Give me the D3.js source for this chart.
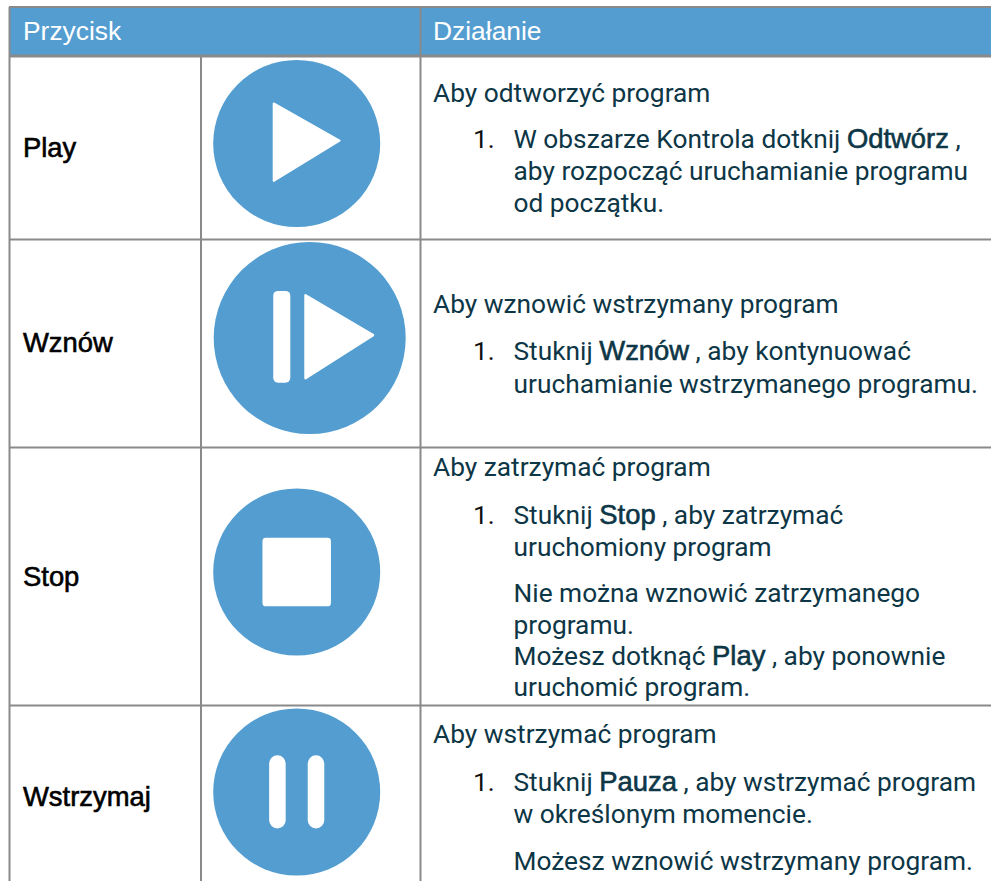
<!DOCTYPE html>
<html>

<head>
    <meta charset="utf-8">
    <title>Przyciski</title>
    <style type="text/css">
    html, body { margin: 0; padding: 0; background: #fff; overflow: hidden; }
    svg { display: block; }
    .grid line { stroke: #8a8a8a; }
    .head text { font: 26.4px "Liberation Sans", sans-serif; fill: #fff; }
    .name text { font: 27.4px "Liberation Sans", sans-serif; fill: #000; stroke: #000; stroke-width: .6px; }
    .body text { font: 26.3px Roboto, sans-serif; fill: #0d3646; }
    .body .b { font: 27.4px "Liberation Sans", sans-serif; stroke: #0d3646; stroke-width: .6px; }
    .body .num { fill: #111; }
    </style>
</head>

<body>
    <script src="https://cdnjs.cloudflare.com/ajax/libs/d3/7.8.5/d3.min.js"></script>
    <script>
    var headers = ["Przycisk", "Działanie"];
    var buttons = ["Play", "Wznów", "Stop", "Wstrzymaj"];
    var icons = ["play", "resume", "stop", "pause"];

    // *...* marks the bold words
    var playLines = ["Aby odtworzyć program", "W obszarze Kontrola dotknij *Odtwórz* ,", "aby rozpocząć uruchamianie programu", "od początku."];
    var resumeLines = ["Aby wznowić wstrzymany program", "Stuknij *Wznów* , aby kontynuować", "uruchamianie wstrzymanego programu."];
    var stopLines = ["Aby zatrzymać program", "Stuknij *Stop* , aby zatrzymać", "uruchomiony program", "Nie można wznowić zatrzymanego", "programu.", "Możesz dotknąć *Play* , aby ponownie", "uruchomić program."];
    var pauseLines = ["Aby wstrzymać program", "Stuknij *Pauza* , aby wstrzymać program", "w określonym momencie.", "Możesz wznowić wstrzymany program."];
    var allLines = [playLines, resumeLines, stopLines, pauseLines];

    // layout, kept apart from the content above
    var width = 991, height = 881;
    var rowY = d3.scaleOrdinal().domain(buttons).range([143.5, 338, 572, 792]);
    var labelY = d3.scaleOrdinal().domain(buttons).range([157, 352, 586, 806]);
    var iconX = d3.scaleOrdinal().domain(buttons).range([296.7, 309.7, 296.7, 296.7]);
    var iconR = d3.scaleOrdinal().domain(buttons).range([83.5, 96, 83.5, 83.5]);
    var lineY = d3.scaleOrdinal().domain(buttons).range([
        [102, 148, 180, 212],
        [313, 360, 393],
        [476, 524, 556, 602, 634, 665, 696],
        [743, 791, 823, 870]
    ]);

    var svg = d3.select("body").append("svg")
        .attr("width", width)
        .attr("height", height);

    svg.append("rect")
        .attr("x", 9).attr("y", 7)
        .attr("width", width - 9).attr("height", 48)
        .attr("fill", "#549dd1");

    var grid = svg.append("g").attr("class", "grid");
    function rule(x1, y1, x2, y2, w) {
        grid.append("line")
            .attr("x1", x1).attr("y1", y1)
            .attr("x2", x2).attr("y2", y2)
            .style("stroke-width", w);
    }
    rule(9, 7, width, 7, 2);
    rule(9, 56, width, 56, 3);
    [239.5, 447.5, 705.5].forEach(function(y) { rule(9, y, width, y, 2); });
    rule(9.5, 7, 9.5, height, 2);
    rule(201, 56, 201, height, 2);
    rule(420.5, 7, 420.5, height, 2);

    svg.append("g").attr("class", "head")
        .selectAll("text")
        .data(headers)
        .enter().append("text")
        .attr("x", function(d, i) { return i ? 433 : 23; })
        .attr("y", 40)
        .text(function(d) { return d; });

    svg.append("g").attr("class", "name")
        .selectAll("text")
        .data(buttons)
        .enter().append("text")
        .attr("x", 23)
        .attr("y", function(d) { return labelY(d); })
        .text(function(d) { return d; });

    var icon = svg.append("g").selectAll("g")
        .data(buttons)
        .enter().append("g")
        .attr("transform", function(d) {
            return "translate(" + iconX(d) + "," + rowY(d) + ")";
        });

    icon.append("circle")
        .attr("r", function(d) { return iconR(d); })
        .attr("fill", "#539dd0");

    // glyphs are drawn inside the circle, in a unit where r = 100
    var glyphs = {
        play: function(g) { triangle(g, -27.5, -48, 51.3, -3.4, 44.7); },
        resume: function(g) {
            bar(g, -38, -20.2, -49, 46.5, 5);
            triangle(g, -4.4, -44.6, 66, -3, 41.8);
        },
        stop: function(g) {
            g.append("rect").attr("x", -41).attr("y", -41)
                .attr("width", 82).attr("height", 82).attr("rx", 4);
        },
        pause: function(g) {
            bar(g, -33, -13.2, -44, 43.6, 9.9);
            bar(g, 13.2, 33, -44, 43.6, 9.9);
        }
    };

    function bar(g, x0, x1, y0, y1, rx) {
        g.append("rect").attr("x", x0).attr("y", y0)
            .attr("width", x1 - x0).attr("height", y1 - y0).attr("rx", rx);
    }

    function triangle(g, x0, yTop, xTip, yTip, yBottom) {
        g.append("path")
            .attr("d", "M" + x0 + "," + yTop + "L" + xTip + "," + yTip + "L" + x0 + "," + yBottom + "Z")
            .attr("stroke", "#fff")
            .attr("stroke-width", 2.5)
            .attr("stroke-linejoin", "round");
    }

    icon.append("g")
        .attr("fill", "#fff")
        .attr("transform", function(d) { return "scale(" + iconR(d) / 100 + ")"; })
        .each(function(d, i) { glyphs[icons[i]](d3.select(this)); });

    var body = svg.append("g").attr("class", "body");
    buttons.forEach(function(name, r) {
        var ys = lineY(name);
        var group = body.append("g");
        group.append("text").attr("class", "num")
            .attr("x", 473).attr("y", ys[1]).text("1.");
        group.selectAll(".line")
            .data(allLines[r])
            .enter().append("text")
            .attr("class", "line")
            .attr("x", function(d, i) { return i ? 513.5 : 433; })
            .attr("y", function(d, i) { return ys[i]; })
            .attr("xml:space", "preserve")
            .style("white-space", "pre")
            .each(function(d) {
                var t = d3.select(this);
                d.split("*").forEach(function(part, k) {
                    t.append("tspan")
                        .attr("class", k % 2 ? "b" : null)
                        .text(part);
                });
            });
    });
    </script>
</body>

</html>
